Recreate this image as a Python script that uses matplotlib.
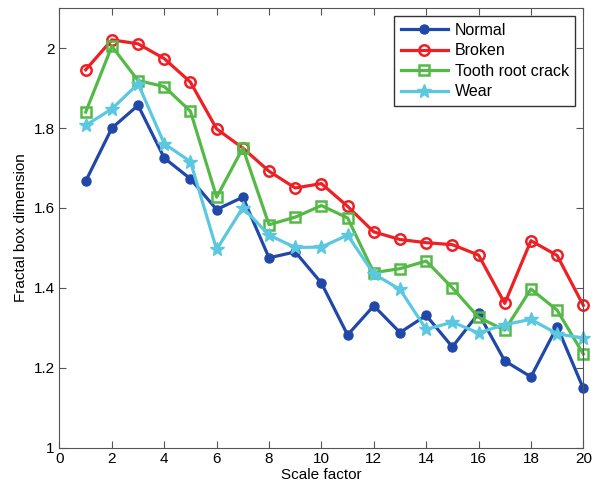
import matplotlib
matplotlib.use("Agg")
import matplotlib.pyplot as plt
import numpy as np

plt.rcParams["font.family"] = ["Liberation Sans", "DejaVu Sans"]

scale = np.arange(1, 21)
normal = [1.667, 1.800, 1.857, 1.725, 1.673, 1.596, 1.627, 1.475, 1.490, 1.412,
          1.282, 1.355, 1.288, 1.331, 1.252, 1.336, 1.217, 1.177, 1.303, 1.148]
broken = [1.946, 2.021, 2.011, 1.974, 1.915, 1.798, 1.750, 1.692, 1.650, 1.661,
          1.604, 1.540, 1.521, 1.513, 1.508, 1.482, 1.361, 1.518, 1.481, 1.356]
crack = [1.840, 2.005, 1.919, 1.904, 1.842, 1.627, 1.750, 1.558, 1.577, 1.606,
         1.575, 1.438, 1.448, 1.467, 1.400, 1.326, 1.294, 1.397, 1.344, 1.234]
wear = [1.807, 1.848, 1.911, 1.761, 1.716, 1.496, 1.601, 1.532, 1.501, 1.502,
        1.532, 1.435, 1.396, 1.296, 1.314, 1.287, 1.308, 1.321, 1.285, 1.274]

fig = plt.figure(figsize=(6.07, 4.87), dpi=100)
ax = fig.add_axes([0.098, 0.081, 0.863, 0.902])

ax.plot(scale, normal, "-o", color="#2148a8", lw=2.3, ms=6.5,
        label="Normal", clip_on=False)
ax.plot(scale, broken, "-o", color="#ee1f25", lw=2.3, ms=7.5, mfc="none",
        mew=1.8, label="Broken", clip_on=False)
ax.plot(scale, crack, "-s", color="#55b947", lw=2.3, ms=7, mfc="none",
        mew=1.8, label="Tooth root crack", clip_on=False)
ax.plot(scale, wear, "-*", color="#5cc8e0", lw=2.3, ms=10.5,
        label="Wear", clip_on=False)

ax.set_xlim(0, 20)
ax.set_ylim(1, 2.1)
ax.set_xticks(np.arange(0, 21, 2))
ax.set_yticks([1, 1.2, 1.4, 1.6, 1.8, 2])
ax.set_yticklabels(["1", "1.2", "1.4", "1.6", "1.8", "2"])
ax.tick_params(direction="in", top=True, right=True, labelsize=11,
               color="#555555", length=5)
for s in ax.spines.values():
    s.set_color("#555555")
ax.set_xlabel("Scale factor", fontsize=11, labelpad=1)
ax.set_ylabel("Fractal box dimension", fontsize=11)
leg = ax.legend(loc="upper right", fontsize=11.5, fancybox=False,
                edgecolor="#333333", framealpha=1, handlelength=3.0,
                borderpad=0.4, labelspacing=0.35, handletextpad=0.4,
                borderaxespad=0.5)
leg.get_frame().set_linewidth(1)

plt.savefig("out.png", dpi=100)
plt.close()
